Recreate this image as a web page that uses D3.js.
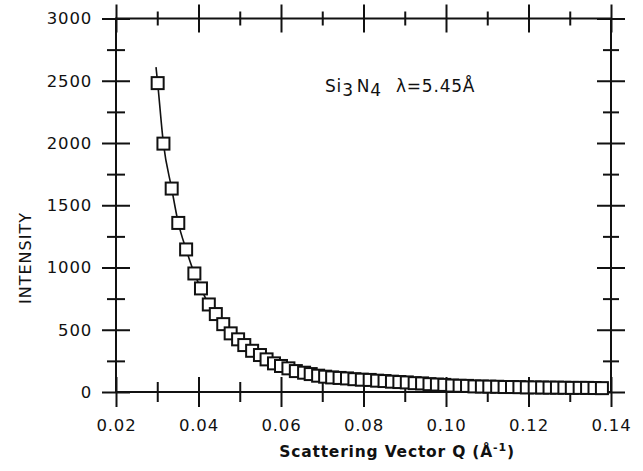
<!DOCTYPE html>
<html>
<head>
<meta charset="utf-8">
<script src="https://cdn.jsdelivr.net/npm/d3@7"></script>
<style>
  body { margin: 0; background: #fff; }
  text { font-family: "DejaVu Sans", sans-serif; fill: #111; }
</style>
</head>
<body>
<div id="chart"></div>
<script>
// data (Si3N4, lambda = 5.45 A)
var qValues = [0.0301, 0.0315, 0.0335, 0.0351, 0.0370, 0.0390, 0.0406, 0.0425, 0.0442, 0.0460,
    0.0478, 0.0496, 0.0511, 0.0530, 0.0549, 0.0565, 0.0583, 0.0600, 0.0618, 0.0636,
    0.0656, 0.0672, 0.0690, 0.0707, 0.0724, 0.0742, 0.0760, 0.0778, 0.0796, 0.0815,
    0.0833, 0.0851, 0.0869, 0.0887, 0.0905, 0.0924, 0.0942, 0.0960, 0.0978, 0.0996,
    0.1015, 0.1033, 0.1051, 0.1069, 0.1087, 0.1105, 0.1124, 0.1142, 0.1160, 0.1178,
    0.1196, 0.1215, 0.1233, 0.1251, 0.1269, 0.1287, 0.1305, 0.1324, 0.1342, 0.1360, 0.1378];
var intensity = [2481, 1995, 1634, 1358, 1145, 952, 832, 703, 626, 545,
    471, 423, 377, 331, 297, 262, 230, 209, 190, 168,
    155, 144, 131, 123, 117, 113, 109, 103, 99, 97,
    91, 88, 83, 80, 77, 71, 69, 63, 60, 57,
    52, 50, 49, 45, 44, 43, 42, 40, 40, 39,
    37, 37, 36, 35, 35, 34, 33, 33, 33, 32, 31];
// the drawn curve starts a little above the first point
var curveStart = [0.0297, 2610];

var xMajor = [0.02, 0.04, 0.06, 0.08, 0.10, 0.12, 0.14];
var xMinor = [0.03, 0.05, 0.07, 0.09, 0.11, 0.13];
var yMajor = [0, 500, 1000, 1500, 2000, 2500, 3000];
var yMinor = [250, 750, 1250, 1750, 2250, 2750];

var width = 643, height = 471;
var plotL = 116, plotR = 611, plotT = 18.5, plotB = 392;

var svg = d3.select('#chart').append('svg')
    .attr('width', width)
    .attr('height', height);

var x = d3.scaleLinear().domain([0.02, 0.14]).range([plotL, plotR]);
var y = d3.scaleLinear().domain([0, 3000]).range([plotB, plotT]);

// ticks cross the frame: draw with d3 axis, then stretch each tick line to the inner side too
function frameAxis(gen, tx, ty, values, size, pad, fmt, attr, inner) {
    var g = svg.append('g')
        .attr('transform', 'translate(' + tx + ',' + ty + ')')
        .call(gen.tickValues(values).tickSize(size).tickPadding(pad).tickFormat(fmt));
    g.select('.domain').remove();
    g.selectAll('.tick line')
        .attr('stroke', '#111')
        .attr('stroke-width', 2)
        .attr(attr, inner);
    return g;
}

var none = function () { return ''; };

frameAxis(d3.axisBottom(x), 0, plotB, xMajor, 15, 12, d3.format('.2f'), 'y1', -15);
frameAxis(d3.axisBottom(x), 0, plotB, xMinor, 10, 0, none, 'y1', -10);
frameAxis(d3.axisTop(x), 0, plotT, xMajor, 14, 0, none, 'y1', 14);
frameAxis(d3.axisTop(x), 0, plotT, xMinor, 7, 0, none, 'y1', 7);
frameAxis(d3.axisLeft(y), plotL, 0, yMajor, 14, 10, d3.format('d'), 'x1', 14);
frameAxis(d3.axisLeft(y), plotL, 0, yMinor, 9, 0, none, 'x1', 9);
frameAxis(d3.axisRight(y), plotR, 0, yMajor, 14, 0, none, 'x1', -14);
frameAxis(d3.axisRight(y), plotR, 0, yMinor, 8, 0, none, 'x1', -8);

svg.selectAll('.tick text')
    .style('font-family', '"DejaVu Sans", sans-serif')
    .style('font-size', '16.5px')
    .style('letter-spacing', '0.8px')
    .attr('fill', '#111');

// frame
svg.append('rect')
    .attr('x', x(0.02))
    .attr('y', y(3000))
    .attr('width', x(0.14) - x(0.02))
    .attr('height', y(0) - y(3000))
    .attr('fill', 'none')
    .attr('stroke', '#111')
    .attr('stroke-width', 2);

// data
var points = qValues.map(function (q, i) { return [q, intensity[i]]; });
var linePts = [curveStart].concat(points);

var line = d3.line()
    .x(function (d) { return x(d[0]); })
    .y(function (d) { return y(d[1]); })
    .curve(d3.curveMonotoneX);

svg.append('path')
    .datum(linePts)
    .attr('d', line)
    .attr('fill', 'none')
    .attr('stroke', '#111')
    .attr('stroke-width', 1.6);

var sq = 12;
svg.append('g').selectAll('rect')
    .data(points)
    .enter()
    .append('rect')
    .attr('x', function (d) { return x(d[0]) - sq / 2; })
    .attr('y', function (d) { return y(d[1]) - sq / 2; })
    .attr('width', sq)
    .attr('height', sq)
    .attr('fill', '#fff')
    .attr('stroke', '#111')
    .attr('stroke-width', 2);

// labels
svg.append('text')
    .attr('transform', 'translate(31,258) rotate(-90)')
    .attr('text-anchor', 'middle')
    .style('font-size', '16px')
    .style('letter-spacing', '1px')
    .text('INTENSITY');

var xl = svg.append('text')
    .attr('x', 397)
    .attr('y', 457)
    .attr('text-anchor', 'middle')
    .style('font-size', '15.5px')
    .style('font-weight', 'bold')
    .style('letter-spacing', '0.8px')
    .text('Scattering Vector  Q (Å');
xl.append('tspan').attr('dy', -6).style('font-size', '11px').text('-1');
xl.append('tspan').attr('dy', 6).text(')');

var note = svg.append('text')
    .attr('x', 325)
    .attr('y', 92)
    .style('font-size', '17px')
    .style('letter-spacing', '0.8px')
    .text('Si');
note.append('tspan').attr('dy', 4).text('3');
note.append('tspan').attr('dy', -4).attr('dx', 3).text('N');
note.append('tspan').attr('dy', 4).text('4');
note.append('tspan').attr('dy', -4).attr('dx', 14).text('λ=5.45Å');
</script>
</body>
</html>
